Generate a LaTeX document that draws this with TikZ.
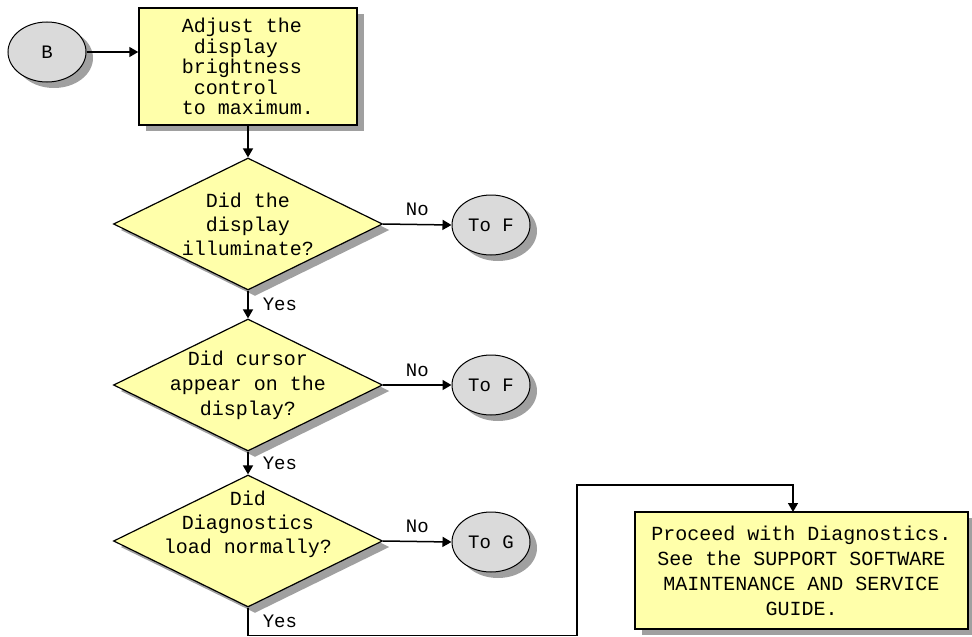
\documentclass[tikz,border=0pt]{standalone}
\usepackage{fontspec}
\setmonofont{Liberation Mono}
\usepackage{xcolor}
\usetikzlibrary{shapes.geometric}
\usetikzlibrary{shadows}
\usetikzlibrary{arrows.meta}

\definecolor{boxyellow}{RGB}{255,255,170}
\definecolor{tokengray}{RGB}{218,218,218}
\definecolor{shadowgray}{RGB}{160,160,160}

\tikzset{
  flatshadow/.style={drop shadow={shadow xshift=7pt,shadow yshift=-6pt,fill=shadowgray,opacity=1}},
  stepbox/.style={draw,line width=1.5pt,fill=boxyellow,flatshadow,inner sep=0pt,font=\ttfamily\fontsize{20}{24}\selectfont},
  ask/.style={diamond,draw,line width=1.2pt,fill=boxyellow,flatshadow,minimum width=269pt,minimum height=132pt,inner sep=0pt},
  asktext/.style={align=center,inner sep=0pt,font=\ttfamily\fontsize{20}{24}\selectfont},
  jump/.style={ellipse,draw,line width=1pt,fill=tokengray,flatshadow,minimum width=78pt,minimum height=60pt,inner sep=0pt,font=\ttfamily\fontsize{19}{22}\selectfont},
  flow/.style={line width=1.5pt,-{Triangle[length=9pt,width=10pt]}},
  answer/.style={font=\ttfamily\fontsize{19}{22}\selectfont,inner sep=0pt}
}

\begin{document}
\begin{tikzpicture}[x=1pt,y=1pt,yscale=-1,xscale=1]
\useasboundingbox (0,0) rectangle (972,637);

% entry point and first step
\node[jump] (entryB) at (47,52) {B};
\node[stepbox,minimum width=218pt,minimum height=117pt,align=left,font=\ttfamily\fontsize{20}{20.5}\selectfont] (adjust) at (248,66.5)
  {Adjust the\\\hspace*{12pt}display\\brightness\\\hspace*{12pt}control\\to maximum.};

% questions
\node[ask] (illum) at (248,224) {};
\node[asktext] (illumtext) at (illum) {Did the\\display\\illuminate?};
\node[ask] (cursor) at (248,385) {};
\node[asktext,font=\ttfamily\fontsize{20}{25}\selectfont] (cursortext) at (cursor) {Did cursor\\appear on the\\display?};
\node[ask] (diag) at (248,541) {};
\node[asktext] (diagtext) at (248,524) {Did\\Diagnostics\\load normally?};

% off-page connectors
\node[jump] (toF1) at (491,225) {To F};
\node[jump] (toF2) at (491,385) {To F};
\node[jump] (toG) at (491,542) {To G};

% last step
\node[stepbox,minimum width=333pt,minimum height=117pt,align=center,font=\ttfamily\fontsize{20}{25}\selectfont] (proceed) at (801.5,570.5)
  {Proceed with Diagnostics.\\See the SUPPORT SOFTWARE\\MAINTENANCE AND SERVICE\\GUIDE.};

\coordinate (down) at (250,635.5);
\coordinate (up) at (577,485);
\coordinate (into) at (793,512);

% connectors
\draw[flow] (entryB.east) -- (entryB.east -| adjust.west);
\draw[flow] (adjust.south) -- (illum.north);
\draw[flow] (illum.east) -- node[answer,above=8pt] (no1) {No} (toF1.west);
\draw[flow] (illum.south) -- node[answer,right=14pt] (yes1) {Yes} (cursor.north);
\draw[flow] (cursor.east) -- node[answer,above=8pt] (no2) {No} (toF2.west);
\draw[flow] (cursor.south) -- node[answer,right=14pt] (yes2) {Yes} (diag.north);
\draw[flow] (diag.east) -- node[answer,above=8pt] (no3) {No} (toG.west);
\draw[line width=1.5pt] (diag.south) -- node[answer,right=14pt] (yes3) {Yes} (diag.south |- down) -- (down -| up);
\draw[flow] (down -| up) -- (up) -| (into);

\end{tikzpicture}
\end{document}
